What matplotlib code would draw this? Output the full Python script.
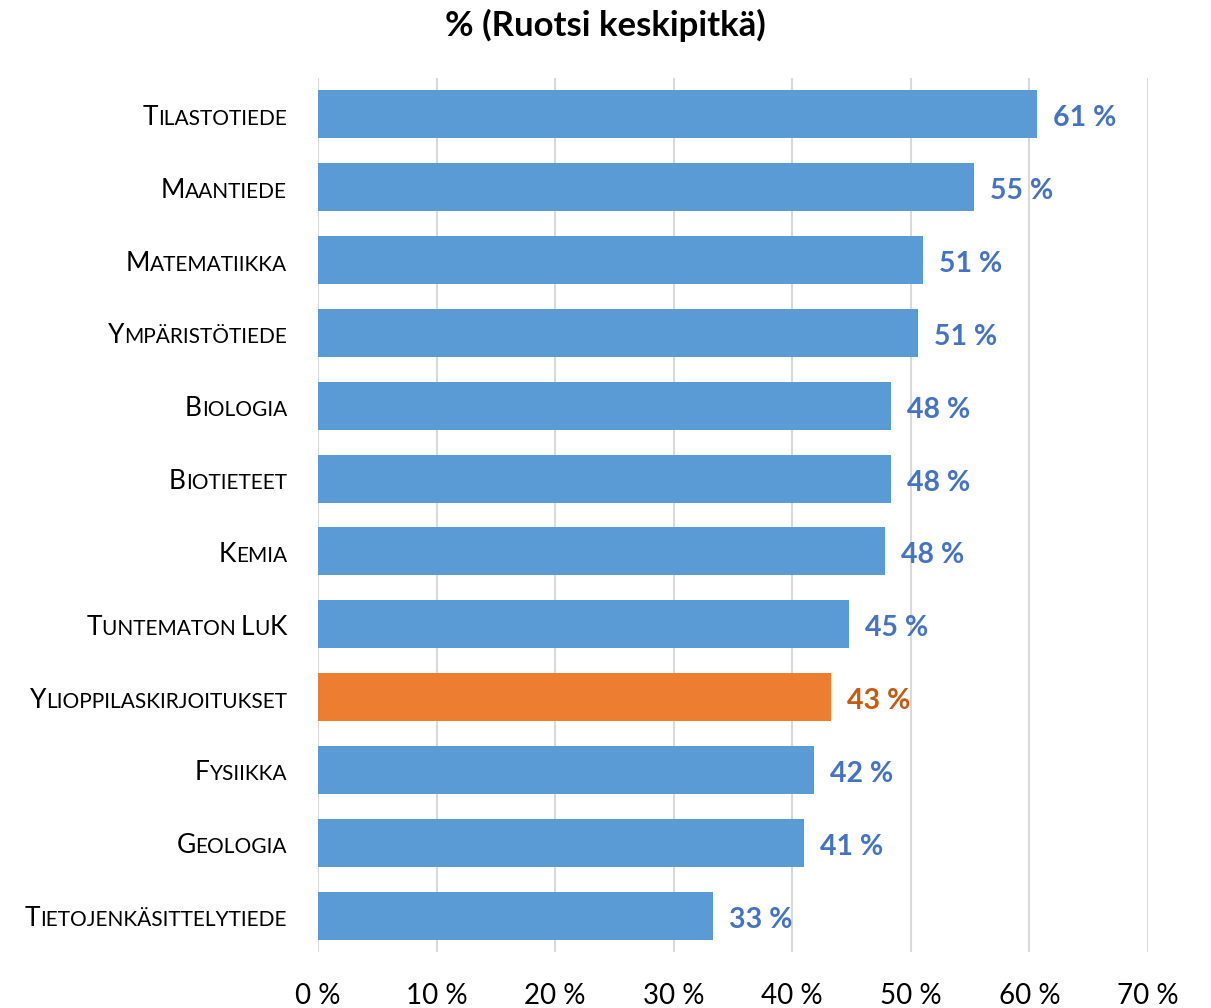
import matplotlib
matplotlib.use("Agg")
import matplotlib.pyplot as plt
from matplotlib.offsetbox import TextArea, HPacker, AnnotationBbox

plt.rcParams['font.family'] = ['Lato', 'DejaVu Sans']

title = "% (Ruotsi keskipitkä)"
subjects = ["Tilastotiede", "Maantiede", "Matematiikka", "Ympäristötiede",
            "Biologia", "Biotieteet", "Kemia", "Tuntematon LuK",
            "Ylioppilaskirjoitukset", "Fysiikka", "Geologia",
            "Tietojenkäsittelytiede"]
values = [60.6, 55.3, 51.0, 50.6, 48.3, 48.3, 47.8, 44.8, 43.3, 41.8, 41.0, 33.3]
highlight = "Ylioppilaskirjoitukset"
xticks = [0, 10, 20, 30, 40, 50, 60, 70]

blue = '#5B9BD5'
orange = '#ED7D31'
blue_txt = '#4472C4'
orange_txt = '#C55A11'

fig = plt.figure(figsize=(12.11, 10.08), dpi=100)
ax = fig.add_axes([0.2626, 0.0556, 0.6854, 0.867])

ypos = list(range(len(subjects)))
colors = [orange if s == highlight else blue for s in subjects]
ax.barh(ypos, values, height=0.66, color=colors, zorder=3)

ax.set_xlim(0, 70)
ax.set_ylim(len(subjects) - 0.5, -0.5)
ax.set_xticks(xticks)
ax.set_xticklabels([f"{t} %" for t in xticks], fontsize=20)
ax.tick_params(axis='x', length=0, pad=22)
ax.set_yticks([])
ax.grid(axis='x', color='#D9D9D9', linewidth=1.5, zorder=0)
for sp in ['top', 'right', 'bottom', 'left']:
    ax.spines[sp].set_visible(False)

for y, v, s in zip(ypos, values, subjects):
    c = orange_txt if s == highlight else blue_txt
    ax.annotate(f"{round(v)} %", (v, y), xytext=(16, -4), textcoords='offset pixels',
                ha='left', va='center', fontsize=20.5, fontweight='bold', color=c)


def small_caps(label, big=19, small=15):
    # split into runs of capitals / lowercase, lowercase drawn as smaller capitals
    runs = []
    for ch in label:
        is_big = ch.isupper()
        if runs and runs[-1][1] == is_big:
            runs[-1][0] += ch
        else:
            runs.append([ch, is_big])
    boxes = [TextArea(t.upper(), textprops=dict(fontsize=big if b else small, color='black'))
             for t, b in runs]
    return HPacker(children=boxes, align='baseline', pad=0, sep=0)


for y, s in zip(ypos, subjects):
    ab = AnnotationBbox(small_caps(s), (0, y), xycoords=ax.get_yaxis_transform(),
                        xybox=(-31, -3), boxcoords='offset pixels',
                        box_alignment=(1, 0.5), frameon=False, pad=0)
    ax.add_artist(ab)

fig.text(0.5, 0.975, title, ha='center', va='center', fontsize=25, fontweight='bold')

fig.savefig('out.png', dpi=100)
